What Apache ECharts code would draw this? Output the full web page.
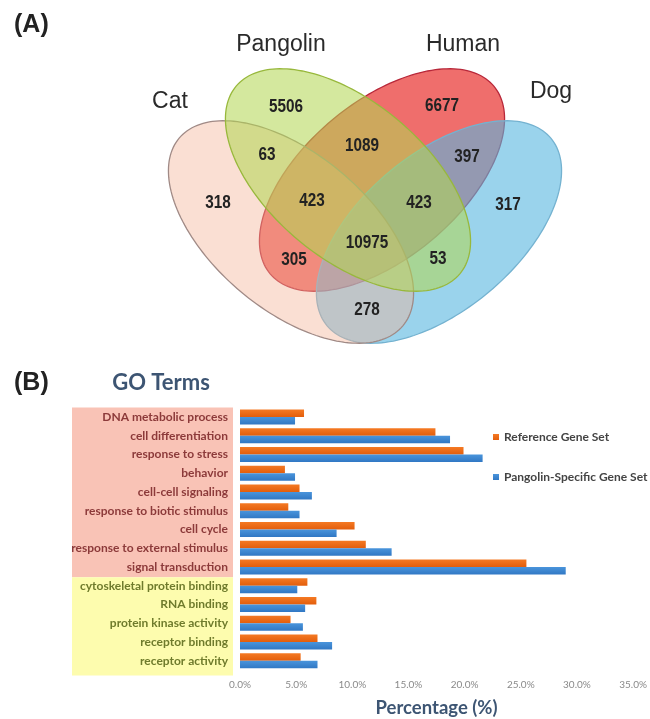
<!DOCTYPE html>
<html>
<head>
<meta charset="utf-8">
<script src="https://cdn.jsdelivr.net/npm/echarts@6/dist/echarts.min.js"></script>
<style>
  html, body { margin: 0; padding: 0; background: #ffffff; }
  #chart { width: 650px; height: 719px; }
</style>
</head>
<body>
<div id="chart"></div>
<script>
// ---------- Panel A: shared / specific gene families across four species ----------
const vennSets = ['Cat', 'Pangolin', 'Human', 'Dog'];
const vennRegions = [
  'Cat', 'Pangolin', 'Human', 'Dog',
  'Cat & Pangolin', 'Pangolin & Human', 'Human & Dog',
  'Cat & Pangolin & Human', 'Pangolin & Human & Dog',
  'Cat & Human', 'Cat & Pangolin & Human & Dog', 'Pangolin & Dog', 'Cat & Dog'
];
const vennCounts = [318, 5506, 6677, 317, 63, 1089, 397, 423, 423, 305, 10975, 53, 278];

// ---------- Panel B: GO term composition ----------
const goTerms = [
  'DNA metabolic process', 'cell differentiation', 'response to stress', 'behavior',
  'cell-cell signaling', 'response to biotic stimulus', 'cell cycle',
  'response to external stimulus', 'signal transduction',
  'cytoskeletal protein binding', 'RNA binding', 'protein kinase activity',
  'receptor binding', 'receptor activity'
];
const goCategory = [
  'process', 'process', 'process', 'process', 'process', 'process', 'process', 'process', 'process',
  'function', 'function', 'function', 'function', 'function'
];
const seriesNames = ['Reference Gene Set', 'Pangolin-Specific Gene Set'];
const referenceSet = [5.7, 17.4, 19.9, 4.0, 5.3, 4.3, 10.2, 11.2, 25.5, 6.0, 6.8, 4.5, 6.9, 5.4];
const pangolinSet  = [4.9, 18.7, 21.6, 4.9, 6.4, 5.3, 8.6, 13.5, 29.0, 5.1, 5.8, 5.6, 8.2, 6.9];
const percentMin = 0, percentMax = 35, percentStep = 5;

// ---------- layout ----------
// ellipse geometry for the four sets (centre, semi-axes, tilt in degrees)
const ellipseGeom = [
  { cx: 291, cy: 232, a: 146, b: 78, rot: 40 },   // Cat
  { cx: 348, cy: 180, a: 146, b: 78, rot: 40 },   // Pangolin
  { cx: 382, cy: 180, a: 146, b: 78, rot: 140 },  // Human
  { cx: 439, cy: 232, a: 146, b: 78, rot: 140 }   // Dog
];
const ellipseStyle = [
  { fill: 'rgba(244,178,150,0.42)', stroke: '#a08a86' },
  { fill: 'rgba(178,214,82,0.56)',  stroke: '#98b83c' },
  { fill: 'rgba(232,42,38,0.68)',   stroke: '#b8283a' },
  { fill: 'rgba(86,182,224,0.60)',  stroke: '#74b2d0' }
];
const drawOrder = [2, 3, 0, 1];   // Human, Dog, Cat, Pangolin
const setLabelPos = [[170, 102], [281, 45], [463, 45], [551, 92]];
const regionLabelPos = [
  [218, 203], [286, 107], [442, 106], [508, 205],
  [267, 155], [362, 146], [467, 157],
  [312, 201], [419, 203],
  [294, 260], [367, 243], [438, 259], [367, 310]
];

const gridLeft = 240, gridTop = 407.5, gridWidth = 397.5, gridHeight = 264;
const labelBoxLeft = 72, labelBoxRight = 233;

function ellipsePoints(g) {
  const pts = [];
  const t = g.rot * Math.PI / 180;
  const c = Math.cos(t), s = Math.sin(t);
  const n = 180;
  for (let i = 0; i < n; i++) {
    const p = 2 * Math.PI * i / n;
    const u = g.a * Math.cos(p), v = g.b * Math.sin(p);
    pts.push([g.cx + u * c - v * s, g.cy + u * s + v * c]);
  }
  return pts;
}

const graphics = [];

// panel letters and title
graphics.push({
  type: 'text', x: 14, y: 25, z: 20,
  style: { text: '(A)', fill: '#222', font: 'bold 25px "Liberation Sans", Arial, sans-serif', textAlign: 'left', textVerticalAlign: 'middle' }
});
graphics.push({
  type: 'text', x: 14, y: 383, z: 20,
  style: { text: '(B)', fill: '#222', font: 'bold 25px "Liberation Sans", Arial, sans-serif', textAlign: 'left', textVerticalAlign: 'middle' }
});
graphics.push({
  type: 'text', x: 161, y: 383, z: 20,
  style: { text: 'GO Terms', fill: '#3d5573', font: 'bold 22px Lato, sans-serif', textAlign: 'center', textVerticalAlign: 'middle' }
});

// ellipses
drawOrder.forEach(function (k, i) {
  graphics.push({
    type: 'polygon', z: 1 + i,
    shape: { points: ellipsePoints(ellipseGeom[k]) },
    style: { fill: ellipseStyle[k].fill, stroke: ellipseStyle[k].stroke, lineWidth: 1.3 }
  });
});

// set names
vennSets.forEach(function (name, k) {
  graphics.push({
    type: 'text', x: setLabelPos[k][0], y: setLabelPos[k][1], z: 20,
    style: { text: name, fill: '#2a2a2a', font: '23px "Liberation Sans", Arial, sans-serif', textAlign: 'center', textVerticalAlign: 'middle' }
  });
});

// region counts
vennCounts.forEach(function (v, k) {
  graphics.push({
    type: 'text', x: regionLabelPos[k][0], y: regionLabelPos[k][1], z: 20,
    scaleX: 0.9, scaleY: 1.1,
    style: { text: String(v), fill: '#222', font: 'bold 17px "Liberation Sans", Arial, sans-serif', textAlign: 'center', textVerticalAlign: 'middle' }
  });
});

// coloured boxes behind the GO term names (biological process / molecular function)
const band = gridHeight / goTerms.length;
const nProcess = goCategory.filter(function (c) { return c === 'process'; }).length;
graphics.push({
  type: 'rect', z: -10,
  shape: { x: labelBoxLeft, y: gridTop, width: labelBoxRight - labelBoxLeft, height: band * nProcess },
  style: { fill: '#f9c3b6' }
});
graphics.push({
  type: 'rect', z: -10,
  shape: { x: labelBoxLeft, y: gridTop + band * nProcess, width: labelBoxRight - labelBoxLeft, height: band * (goTerms.length - nProcess) + 4 },
  style: { fill: '#fdfcae' }
});

function barGradient(top, bottom) {
  return new echarts.graphic.LinearGradient(0, 0, 0, 1, [
    { offset: 0, color: top }, { offset: 1, color: bottom }
  ]);
}

const chart = echarts.init(document.getElementById('chart'), null, { renderer: 'canvas' });
chart.setOption({
  animation: false,
  backgroundColor: '#ffffff',
  graphic: graphics,
  legend: {
    data: seriesNames,
    orient: 'vertical',
    left: 493, top: 431, padding: 0,
    itemWidth: 6, itemHeight: 6, itemGap: 28,
    icon: 'rect',
    textStyle: { fontFamily: 'Lato', fontWeight: 'bold', fontSize: 12, color: '#444' }
  },
  grid: { left: gridLeft, top: gridTop, width: gridWidth, height: gridHeight, containLabel: false },
  xAxis: {
    type: 'value',
    min: percentMin, max: percentMax, interval: percentStep,
    axisLine: { show: false }, axisTick: { show: false }, splitLine: { show: false },
    axisLabel: {
      margin: 10, color: '#8a8a8a', fontFamily: 'Lato', fontSize: 10,
      formatter: function (v) { return v.toFixed(1) + '%'; }
    },
    name: 'Percentage (%)', nameLocation: 'middle', nameGap: 29,
    nameTextStyle: { fontFamily: 'Lato', fontWeight: 'bold', fontSize: 18.5, color: '#3d5573' }
  },
  yAxis: {
    type: 'category', inverse: true, data: goTerms,
    axisLine: { show: false }, axisTick: { show: false },
    axisLabel: {
      margin: 12, fontFamily: 'Lato', fontWeight: 'bold', fontSize: 12,
      color: function (value, index) {
        return goCategory[goTerms.indexOf(value)] === 'process' ? '#8c3a3a' : '#6f7b2c';
      }
    }
  },
  series: [
    {
      name: seriesNames[0], type: 'bar', data: referenceSet,
      barWidth: 7.5, barGap: '0%',
      itemStyle: { color: barGradient('#f57a24', '#e35e0c') }
    },
    {
      name: seriesNames[1], type: 'bar', data: pangolinSet,
      barWidth: 7.5, barGap: '0%',
      itemStyle: { color: barGradient('#4a95dc', '#3178c4') }
    }
  ]
});
</script>
</body>
</html>
